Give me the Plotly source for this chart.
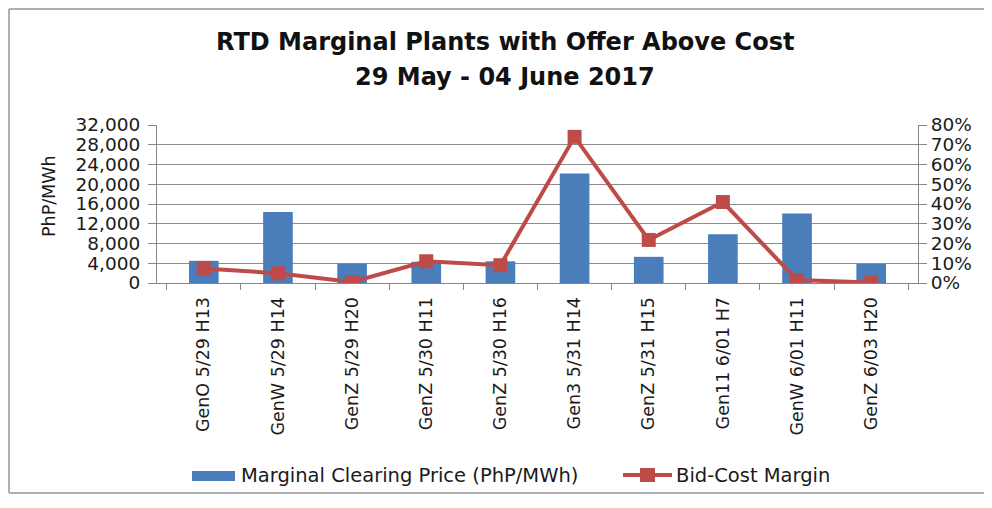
import plotly.graph_objects as go

categories = ["GenO 5/29 H13", "GenW 5/29 H14", "GenZ 5/29 H20", "GenZ 5/30 H11",
              "GenZ 5/30 H16", "Gen3 5/31 H14", "GenZ 5/31 H15", "Gen11 6/01 H7",
              "GenW 6/01 H11", "GenZ 6/03 H20"]
price = [4500, 14400, 3900, 4300, 4400, 22200, 5300, 9850, 14100, 3850]
margin = [0.074, 0.049, 0.005, 0.11, 0.09, 0.74, 0.218, 0.41, 0.015, 0.002]

left_ticks = [0, 4000, 8000, 12000, 16000, 20000, 24000, 28000, 32000]
right_ticks = [0, 0.1, 0.2, 0.3, 0.4, 0.5, 0.6, 0.7, 0.8]

FONT = "DejaVu Sans"
BLUE = "#4a7ebb"
RED = "#be4b48"
TXT = "#1a1a1a"
AX = "#868686"
FRAME = "#b0b0b0"

# plot area in reference pixels
PL, PR, PT, PB = 157, 918, 125, 283
PW, PH = PR - PL, PB - PT
W, H = 976, 486  # page body adds 8px margins; keep page from scrolling


def px(X):
    return (X - PL) / PW


def py(Y):
    return (PB - Y) / PH


fig = go.Figure()
fig.add_trace(go.Bar(x=categories, y=price, name="Marginal Clearing Price (PhP/MWh)",
                     marker=dict(color=BLUE, line=dict(width=0)), width=0.4))
fig.add_trace(go.Scatter(x=categories, y=margin, name="Bid-Cost Margin", yaxis="y2",
                         mode="lines+markers",
                         line=dict(color=RED, width=4),
                         marker=dict(symbol="square", size=14, color=RED)))

fig.update_layout(
    width=W, height=H,
    margin=dict(l=PL - 8, r=W - (PL - 8) - PW, t=PT - 8, b=H - (PT - 8) - PH),
    paper_bgcolor="white", plot_bgcolor="white",
    font=dict(family=FONT, size=16, color=TXT),
    showlegend=False,
    xaxis=dict(type="category", tickangle=-90, showline=True, linecolor=AX,
               linewidth=1, ticks="outside", tickson="boundaries", ticklen=6,
               tickcolor=AX, showgrid=False, ticklabelstandoff=6,
               tickfont=dict(size=17.5, color=TXT)),
    yaxis=dict(range=[0, 32000], tickvals=left_ticks, tickformat=",d",
               showgrid=True, gridcolor="#8c8c8c", gridwidth=1,
               showline=True, linecolor=AX, ticks="outside", ticklen=8,
               tickcolor=AX, zeroline=False, ticklabelstandoff=4,
               tickfont=dict(size=18.5, color=TXT)),
    yaxis2=dict(range=[0, 0.8], tickvals=right_ticks, tickformat=".0%",
                overlaying="y", side="right", showgrid=False,
                showline=True, linecolor=AX, ticks="outside", ticklen=8,
                tickcolor=AX, zeroline=False,
                tickfont=dict(size=18.5, color=TXT)),
    annotations=[
        dict(text="<b>RTD Marginal Plants with Offer Above Cost</b>", xref="paper", yref="paper",
             x=px(505), y=py(42), xanchor="center", yanchor="middle", showarrow=False,
             font=dict(size=24, family=FONT, color="#111")),
        dict(text="<b>29 May - 04 June 2017</b>", xref="paper", yref="paper",
             x=px(505), y=py(77), xanchor="center", yanchor="middle", showarrow=False,
             font=dict(size=24, family=FONT, color="#111")),
        dict(text="PhP/MWh", xref="paper", yref="paper", textangle=-90,
             x=px(49), y=py(196), xanchor="center", yanchor="middle", showarrow=False,
             font=dict(size=17.5, family=FONT, color=TXT)),
        dict(text="Marginal Clearing Price (PhP/MWh)", xref="paper", yref="paper",
             x=px(239), y=py(475), xanchor="left", yanchor="middle", showarrow=False,
             font=dict(size=19.5, family=FONT, color=TXT)),
        dict(text="Bid-Cost Margin", xref="paper", yref="paper",
             x=px(674), y=py(475), xanchor="left", yanchor="middle", showarrow=False,
             font=dict(size=19.5, family=FONT, color=TXT)),
    ],
    shapes=[
        # chart frame (left, top, bottom)
        dict(type="line", xref="paper", yref="paper", x0=px(9), x1=px(9),
             y0=py(493), y1=py(9), line=dict(color=FRAME, width=2), layer="below"),
        dict(type="line", xref="paper", yref="paper", x0=px(9), x1=px(992),
             y0=py(9), y1=py(9), line=dict(color=FRAME, width=2), layer="below"),
        dict(type="line", xref="paper", yref="paper", x0=px(9), x1=px(992),
             y0=py(493), y1=py(493), line=dict(color=FRAME, width=2), layer="below"),
        # legend keys
        dict(type="rect", xref="paper", yref="paper",
             x0=px(192), x1=px(235), y0=py(481), y1=py(471),
             fillcolor=BLUE, line=dict(width=0)),
        dict(type="line", xref="paper", yref="paper",
             x0=px(623), x1=px(672), y0=py(475), y1=py(475),
             line=dict(color=RED, width=4)),
        dict(type="rect", xref="paper", yref="paper",
             x0=px(640), x1=px(655), y0=py(482), y1=py(468),
             fillcolor=RED, line=dict(width=0)),
    ],
)

fig.write_html("out.html")
